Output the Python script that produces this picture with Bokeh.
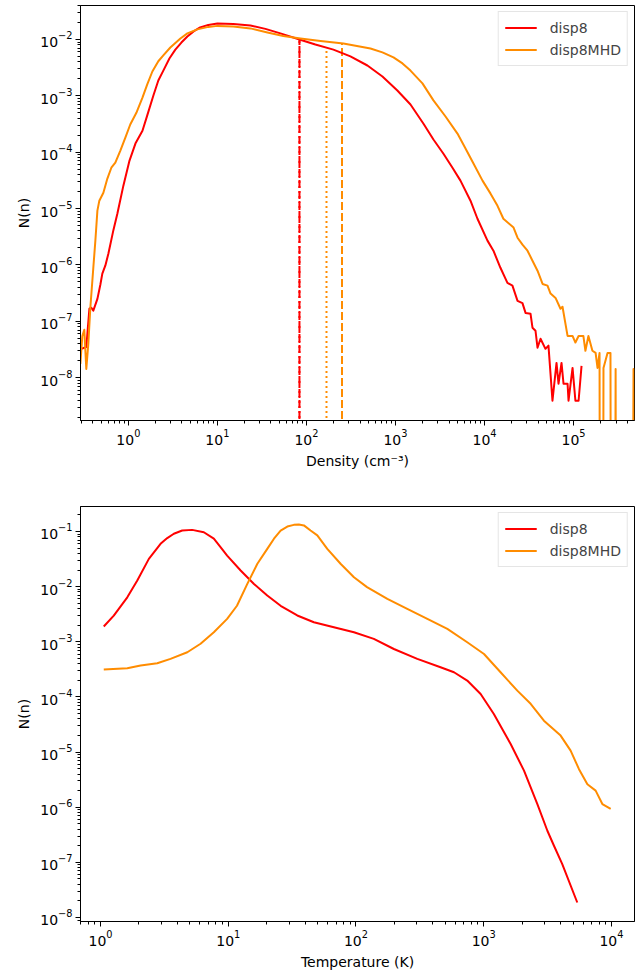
import numpy as np
from bokeh.plotting import figure
from bokeh.layouts import column
from bokeh.models import FixedTicker
from bokeh.embed import file_html
from bokeh.resources import INLINE

# ---------------- Density PDF (top panel) ----------------
dens_disp8 = [0.296, 0.32, 0.337, 0.365, 0.384, 0.404, 0.449, 0.485, 0.51, 0.552,
              0.596, 0.678, 0.752, 0.879, 1.03, 1.2, 1.44, 1.63, 1.91, 2.17,
              2.47, 2.89, 3.37, 3.94, 4.6, 5.4, 6.4, 7.9, 10.0, 15.1,
              23.5, 34.6, 51.0, 83.5, 126, 201, 312, 484, 714, 1050,
              1475, 2065, 2670, 3460, 4370, 5370, 6960, 8340, 10800, 12600,
              15100, 18100, 20600, 23500, 26700, 28900, 32900, 34600, 37400, 39400,
              42600, 48400, 52300, 58000, 64400, 67800, 73300, 77200, 85700, 87900,
              97500, 105000, 114000, 123000]
N_dens_disp8 = [3.25e-8, 3.4e-8, 3.5e-8, 1.67e-7, 1.74e-7, 1.55e-7, 2.5e-7, 4.5e-7, 7.0e-7, 9.8e-7,
                1.58e-6, 4.1e-6, 8.1e-6, 2.55e-5, 7.1e-5, 1.42e-4, 2.4e-4, 4.5e-4, 1.01e-3, 1.87e-3,
                2.8e-3, 4.6e-3, 6.6e-3, 8.8e-3, 1.13e-2, 1.39e-2, 1.63e-2, 1.81e-2, 1.92e-2, 1.88e-2,
                1.77e-2, 1.54e-2, 1.28e-2, 1.0e-2, 8.15e-3, 6.6e-3, 5.0e-3, 3.45e-3, 2.2e-3, 1.24e-3,
                7.0e-4, 3.2e-4, 1.68e-4, 9.4e-5, 5.3e-5, 3.13e-5, 1.38e-5, 6.6e-6, 2.7e-6, 1.79e-6,
                8.9e-7, 4.8e-7, 4.3e-7, 2.3e-7, 2.1e-7, 1.41e-7, 1.36e-7, 7.7e-8, 6.8e-8, 3.4e-8,
                4.9e-8, 3.25e-8, 3.7e-8, 3.9e-9, 1.83e-8, 7.8e-9, 1.83e-8, 7.8e-9, 7.8e-9, 3.9e-9,
                1.49e-8, 3.9e-9, 3.9e-9, 1.62e-8]

dens_mhd = [0.289, 0.304, 0.32, 0.337, 0.355, 0.374, 0.404, 0.426, 0.449, 0.472,
            0.524, 0.581, 0.644, 0.714, 0.813, 0.925, 1.05, 1.23, 1.44, 1.63,
            1.86, 2.17, 2.47, 2.96, 3.84, 4.6, 5.96, 7.9, 10.0, 15.1,
            23.5, 36.5, 55.0, 85.7, 144, 260, 524, 714, 950, 1199, 1475, 2010,
            2670, 3650, 4970, 6120, 7520, 9500, 11700, 14000, 16300, 21200,
            23500, 26700, 30400, 34600, 39400, 44900, 51000, 55200, 62800, 71400,
            75200, 85700, 97500, 105000, 114000, 129000, 136000, 147000, 163000, 177000,
            186000, 196000, 206000, 217000, 241000, 260000, 274000, 297000, 312000, 415000,
            472000, 500000]
N_dens_mhd = [1.76e-8, 5.5e-8, 7.1e-8, 1.43e-8, 4.0e-8, 1.74e-7, 8.9e-7, 2.7e-6, 9.2e-6, 1.38e-5,
              1.91e-5, 3.4e-5, 5.3e-5, 6.5e-5, 1.07e-4, 1.82e-4, 3.1e-4, 5.0e-4, 9.3e-4, 1.59e-3,
              2.7e-3, 4.1e-3, 5.2e-3, 7.2e-3, 1.04e-2, 1.28e-2, 1.51e-2, 1.67e-2, 1.74e-2, 1.70e-2,
              1.57e-2, 1.33e-2, 1.15e-2, 1.04e-2, 9.4e-3, 8.5e-3, 6.9e-3, 5.9e-3, 4.8e-3, 3.75e-3, 2.8e-3, 1.66e-3,
              8.3e-4, 4.3e-4, 2.14e-4, 1.16e-4, 6.3e-5, 3.13e-5, 1.84e-5, 1.12e-5, 6.6e-6, 4.6e-6,
              3.04e-6, 2.29e-6, 1.79e-6, 1.19e-6, 7.9e-7, 4.6e-7, 4.3e-7, 3.1e-7, 2.6e-7, 1.67e-7,
              1.81e-7, 5.5e-8, 5.5e-8, 4.2e-8, 5.5e-8, 5.5e-8, 3.0e-8, 5.5e-8, 3.0e-8, 2.75e-8,
              1.49e-8, 2.75e-8, 0, 1.49e-8, 2.75e-8, 2.75e-8, 0, 1.43e-8, 0, 0,
              1.43e-8, 0]

# characteristic densities (vertical markers) and the curve value they reach
mark_disp8_x = [83.5]
mark_disp8_top = [1.0e-2]
mark_mhd_dotted_x = [168.0]
mark_mhd_dotted_top = [7.2e-3]
mark_mhd_dashed_x = [251.0]
mark_mhd_dashed_top = [8.5e-3]

# ---------------- Temperature PDF (bottom panel) ----------------
temp_disp8 = [1.06, 1.27, 1.62, 1.94, 2.39, 2.95, 3.33, 3.75, 4.36, 5.22, 6.44, 7.71,
              8.7, 9.8, 12.5, 15.9, 20.2, 25.7, 34.7, 46.8, 67.1, 96.4, 138,
              198, 302, 459, 585, 743, 946, 1200, 1625, 2067, 2630,
              3150, 3548, 4120, 5400]
N_temp_disp8 = [1.89e-3, 2.99e-3, 6.4e-3, 1.29e-2, 3.19e-2, 5.97e-2, 7.6e-2, 9.1e-2, 0.104, 0.107, 9.7e-2, 7.4e-2,
                5.2e-2, 3.66e-2, 1.96e-2, 1.12e-2, 6.9e-3, 4.5e-3, 3.0e-3, 2.26e-3, 1.83e-3, 1.49e-3, 1.13e-3,
                7.4e-4, 4.9e-4, 3.45e-4, 2.8e-4, 1.98e-4, 1.13e-4, 4.9e-5, 1.4e-5, 4.6e-6, 1.14e-6,
                3.74e-7, 2.0e-7, 9.3e-8, 1.87e-8]

temp_mhd = [1.06, 1.62, 2.06, 2.78, 3.53, 4.78, 6.07, 7.71, 9.8, 11.7,
            14.1, 16.9, 20.2, 22.8, 25.7, 29.0, 32.6, 35.7, 39.1, 44.1, 49.8, 59.6, 75.7,
            96.4, 122, 176, 252, 362, 519, 743, 1005, 1355, 1832,
            2330, 2960, 4000, 4790, 5570, 6480, 7520, 8490, 9860]
N_temp_mhd = [3.13e-4, 3.3e-4, 3.7e-4, 4.07e-4, 4.9e-4, 6.46e-4, 9.2e-4, 1.49e-3, 2.6e-3, 4.5e-3,
              1.12e-2, 2.6e-2, 4.85e-2, 7.4e-2, 0.104, 0.123, 0.132, 0.134, 0.129, 0.104, 8.5e-2, 4.85e-2, 2.6e-2,
              1.48e-2, 9.8e-3, 6.0e-3, 3.95e-3, 2.6e-3, 1.71e-3, 9.8e-4, 6.0e-4, 2.8e-4, 1.3e-4,
              7.5e-5, 3.7e-5, 1.99e-5, 1.06e-5, 4.9e-6, 2.6e-6, 2.0e-6, 1.14e-6, 9.3e-7]

labels = ["disp8", "disp8MHD"]

RED = "#ff0000"
ORANGE = "#ff8c00"
FONT = "DejaVu Sans"
FLOOR = 1e-30  # log-scale stand-in for empty bins (clipped below the frame)


def clip(vals):
    a = np.asarray(vals, dtype=float)
    return np.where(a > 0, a, FLOOR)


def log_ticks(e0, e1):
    return [10.0 ** e for e in range(e0, e1 + 1)]


def log_minor(e0, e1):
    return [m * 10.0 ** e for e in range(e0, e1 + 1) for m in range(2, 10)]


def style(p, xmaj, xmin, ymaj, ymin, xlabel):
    p.grid.visible = False
    p.outline_line_color = "black"
    p.outline_line_width = 1
    p.xaxis.ticker = FixedTicker(ticks=xmaj, minor_ticks=xmin)
    p.yaxis.ticker = FixedTicker(ticks=ymaj, minor_ticks=ymin)
    p.xaxis.axis_label = xlabel
    p.yaxis.axis_label = "N(n)"
    for ax in (p.xaxis, p.yaxis):
        ax.axis_line_color = "black"
        ax.major_tick_line_color = "black"
        ax.minor_tick_line_color = "black"
        ax.major_tick_in = 0
        ax.major_tick_out = 5
        ax.minor_tick_in = 0
        ax.minor_tick_out = 3
        ax.major_label_text_font = FONT
        ax.major_label_text_font_size = "14px"
        ax.major_label_text_color = "black"
        ax.axis_label_text_font = FONT
        ax.axis_label_text_font_size = "14px"
        ax.axis_label_text_font_style = "normal"
        ax.axis_label_text_color = "black"
        ax.major_label_standoff = 3
        ax.axis_label_standoff = 5
    lg = p.legend[0]
    lg.location = "top_right"
    lg.margin = 6
    lg.padding = 6
    lg.spacing = 3
    lg.glyph_width = 32
    lg.glyph_height = 19
    lg.label_height = 19
    lg.label_standoff = 13
    lg.label_text_font = FONT
    lg.label_text_font_size = "14px"
    lg.border_line_color = "#cccccc"
    lg.border_line_width = 1
    lg.background_fill_alpha = 0.8


# ---- top panel ----
p1 = figure(width=635, height=490, x_axis_type="log", y_axis_type="log",
            x_range=(0.29, 4.84e5), y_range=(1.74e-9, 0.040),
            output_backend="svg", toolbar_location=None,
            min_border_left=80, min_border_right=1, min_border_top=5, min_border_bottom=70)

p1.segment(x0=mark_disp8_x, y0=[FLOOR] * len(mark_disp8_x), x1=mark_disp8_x, y1=mark_disp8_top,
           line_color=RED, line_width=2, line_dash="8 3")
p1.segment(x0=mark_disp8_x, y0=[FLOOR] * len(mark_disp8_x), x1=mark_disp8_x, y1=mark_disp8_top,
           line_color=RED, line_width=2, line_dash="2 3")
p1.segment(x0=mark_mhd_dotted_x, y0=[FLOOR] * len(mark_mhd_dotted_x), x1=mark_mhd_dotted_x,
           y1=mark_mhd_dotted_top, line_color=ORANGE, line_width=2, line_dash="2 3")
p1.segment(x0=mark_mhd_dashed_x, y0=[FLOOR] * len(mark_mhd_dashed_x), x1=mark_mhd_dashed_x,
           y1=mark_mhd_dashed_top, line_color=ORANGE, line_width=2, line_dash="8 3")

p1.line(dens_disp8, clip(N_dens_disp8), line_color=RED, line_width=2, line_join="round",
        legend_label=labels[0])
p1.line(dens_mhd, clip(N_dens_mhd), line_color=ORANGE, line_width=2, line_join="round",
        legend_label=labels[1])

style(p1, log_ticks(0, 5), log_minor(-1, 5), log_ticks(-8, -2), log_minor(-10, -2),
      "Density (cm\u207b\u00b3)")

# ---- bottom panel ----
p2 = figure(width=635, height=486, x_axis_type="log", y_axis_type="log",
            x_range=(0.697, 15150), y_range=(8.46e-9, 0.284),
            output_backend="svg", toolbar_location=None,
            min_border_left=80, min_border_right=1, min_border_top=16, min_border_bottom=55)

p2.line(temp_disp8, N_temp_disp8, line_color=RED, line_width=2, line_join="round",
        legend_label=labels[0])
p2.line(temp_mhd, N_temp_mhd, line_color=ORANGE, line_width=2, line_join="round",
        legend_label=labels[1])

style(p2, log_ticks(0, 4), log_minor(-1, 4), log_ticks(-8, -1), log_minor(-9, -1),
      "Temperature (K)")

layout = column(p1, p2)
open("out.html", "w").write(file_html(layout, INLINE))
